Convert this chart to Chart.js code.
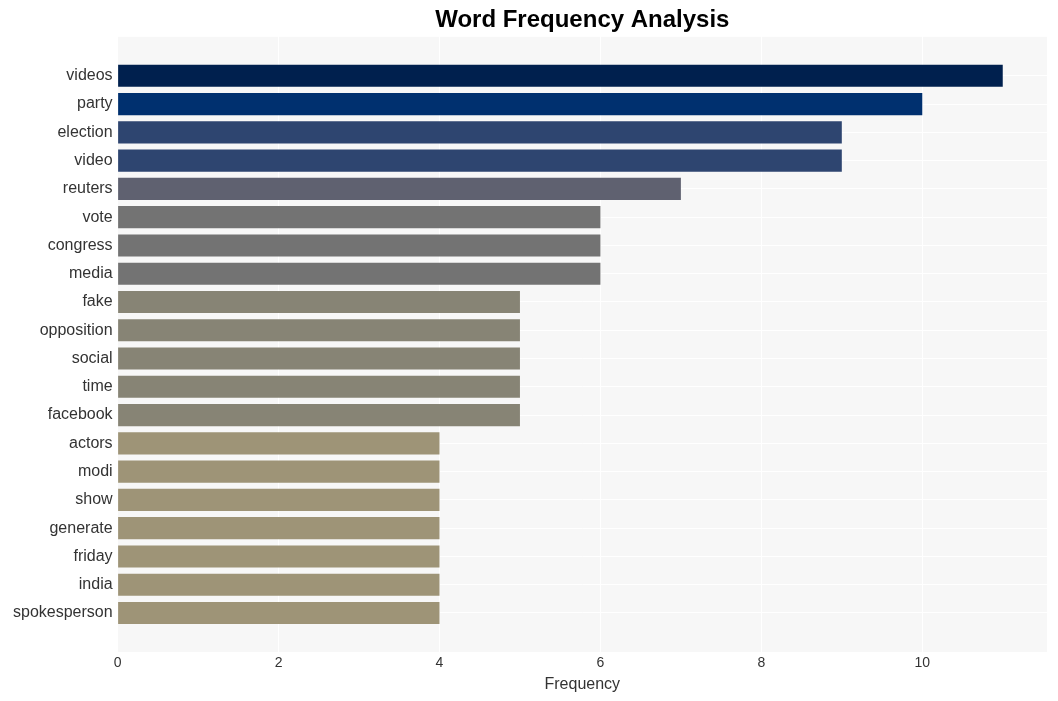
<!DOCTYPE html>
<html>
<head>
<meta charset="utf-8">
<script src="https://cdn.jsdelivr.net/npm/chart.js@4"></script>
<style>
  html, body { margin: 0; padding: 0; background: #ffffff; }
  #wrap { width: 1058px; height: 701px; }
</style>
</head>
<body>
<div id="wrap"><canvas id="chart"></canvas></div>
<script>
const WORDS = [
    "videos", "party", "election", "video", "reuters", "vote", "congress",
    "media", "fake", "opposition", "social", "time", "facebook", "actors",
    "modi", "show", "generate", "friday", "india", "spokesperson"
];
const COUNTS = [11, 10, 9, 9, 7, 6, 6, 6, 5, 5, 5, 5, 5, 4, 4, 4, 4, 4, 4, 4];
const X_TICKS = [0, 2, 4, 6, 8, 10];

// colour for each count
const SHADES = {
    11: "#00204e",
    10: "#00306f",
    9: "#2e4570",
    7: "#5f6170",
    6: "#737373",
    5: "#878475",
    4: "#9e9477"
};

// grey panel behind the plot
const panel = {
    id: "panel",
    beforeDraw(chart) {
        const a = chart.chartArea;
        const ctx = chart.ctx;
        ctx.save();
        ctx.fillStyle = "#f7f7f7";
        ctx.fillRect(a.left, a.top, a.right - a.left, a.bottom - a.top);
        ctx.restore();
    }
};

Chart.defaults.font.family = "Arial, 'Liberation Sans', sans-serif";
Chart.defaults.color = "#333333";

const ctx = document.getElementById("chart").getContext("2d");

new Chart(ctx, {
    type: "bar",
    data: {
        datasets: [
            {
                data: COUNTS.map((c, i) => ({ x: c, y: i })),
                backgroundColor: COUNTS.map(c => SHADES[c]),
                borderWidth: 0,
                categoryPercentage: 0.85,
                barPercentage: 0.92
            }
        ]
    },
    options: {
        indexAxis: "y",
        responsive: true,
        maintainAspectRatio: false,
        animation: false,
        layout: { padding: { left: 8, right: 11, top: 4, bottom: 7 } },
        plugins: {
            legend: { display: false },
            tooltip: { enabled: false },
            title: {
                display: true,
                text: "Word Frequency Analysis",
                color: "#000000",
                fullSize: false,
                font: { size: 24, weight: "bold" },
                padding: { top: 2, bottom: 2 }
            }
        },
        scales: {
            x: {
                type: "linear",
                min: 0,
                max: 11.55,
                afterBuildTicks: s => { s.ticks = X_TICKS.map(v => ({ value: v })); },
                grid: { color: "#ffffff", lineWidth: 1, drawTicks: false },
                border: { display: false },
                ticks: { font: { size: 14 }, padding: 3, color: "#333333" },
                title: {
                    display: true,
                    text: "Frequency",
                    font: { size: 16 },
                    color: "#333333",
                    padding: { top: 0, bottom: 0 }
                }
            },
            y: {
                type: "linear",
                reverse: true,
                offset: false,
                min: -1.38,
                max: WORDS.length - 1 + 1.38,
                afterBuildTicks: s => { s.ticks = WORDS.map((w, i) => ({ value: i })); },
                grid: { color: "#ffffff", lineWidth: 1, drawTicks: false, offset: false },
                border: { display: false },
                ticks: {
                    font: { size: 16 },
                    padding: 5,
                    color: "#333333",
                    autoSkip: false,
                    callback: v => WORDS[v]
                }
            }
        }
    },
    plugins: [panel]
});
</script>
</body>
</html>
